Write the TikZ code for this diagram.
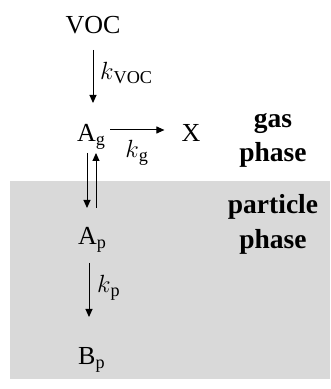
\documentclass[tikz,border=0pt]{standalone}
\usepackage{fontspec}
\setmainfont{Liberation Serif}
\usetikzlibrary{arrows.meta,calc}
\begin{document}
\begin{tikzpicture}[x=1pt,y=1pt,
  lbl/.style={inner sep=0pt,font=\fontsize{26}{30}\selectfont},
  ph/.style={inner sep=0pt,font=\fontsize{27.5}{34}\selectfont\bfseries,align=center},
  arr/.style={-{Triangle[length=8pt,width=7pt]},line width=1pt}]
\useasboundingbox (0,0) rectangle (330,389);
\fill[black!15] (10,10) rectangle (330,208);
\node[lbl,anchor=base] (voc) at (93,355) {VOC};
\node[lbl,anchor=base west] (ag) at (77,247) {A\textsubscript{g}};
\node[lbl,anchor=base] (x) at (191,247) {X};
\node[lbl,anchor=base west] (ap) at (78,144) {A\textsubscript{p}};
\node[lbl,anchor=base west] (bp) at (78,24) {B\textsubscript{p}};
\node[lbl,anchor=west] (kvoc) at (100,316) {$k$\textsubscript{VOC}};
\node[lbl] (kg) at (137,236) {$k$\textsubscript{g}};
\node[lbl,anchor=west] (kp) at (97,101) {$k$\textsubscript{p}};
\node[ph,anchor=base] (gas) at (273,261) {gas};
\node[ph,anchor=base] (gph) at (273,227) {phase};
\node[ph,anchor=base] (part) at (273,175) {particle};
\node[ph,anchor=base] (pph) at (273,140) {phase};
\draw[arr] ($(voc.base)+(0,-16)$) -- ($(ag.base west)+(16,39)$);
\draw[arr] ($(ag.base west)+(33,12)$) -- ($(x.base west)+(-17,12)$);
\draw[arr] ($(ag.base west)+(10,-11)$) -- ($(ap.base west)+(9,37)$);
\draw[arr] ($(ap.base west)+(18,37)$) -- ($(ag.base west)+(19,-11)$);
\draw[arr] ($(ap.base west)+(11,-18)$) -- ($(bp.base west)+(11,48)$);
\end{tikzpicture}
\end{document}
